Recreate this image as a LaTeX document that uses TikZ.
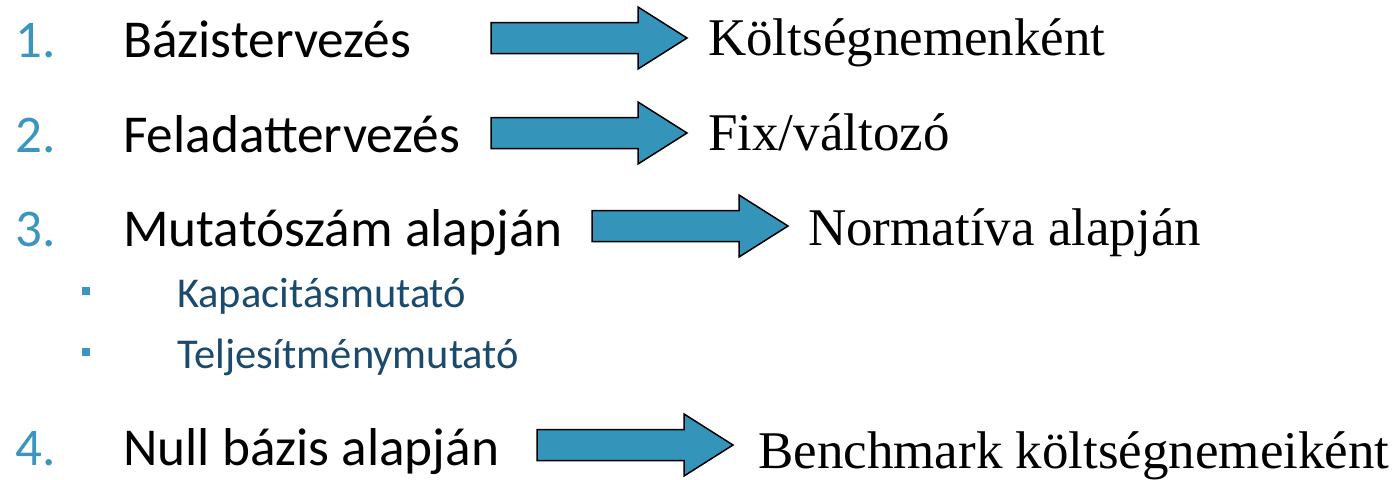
\documentclass[tikz,border=0pt]{standalone}
\usepackage{fontspec}
\setmainfont{Carlito}
\newfontfamily\serifface{Liberation Serif}
\definecolor{numteal}{RGB}{58,150,190}
\definecolor{arrowfill}{RGB}{53,148,186}
\definecolor{subblue}{RGB}{26,74,110}
\tikzset{
  numlabel/.style={anchor=base west, inner sep=0pt, text=numteal, font=\fontsize{53}{60}\selectfont},
  mainlabel/.style={anchor=base west, inner sep=0pt, text=black, font=\fontsize{53.3}{60}\selectfont},
  sublabel/.style={anchor=base west, inner sep=0pt, text=subblue, font=\fontsize{42.5}{50}\selectfont},
  resultlabel/.style={anchor=base west, inner sep=0pt, text=black, font=\serifface\fontsize{53}{60}\selectfont},
  blockarrow/.style={fill=arrowfill, draw=black, line width=1.5pt, line join=miter},
  bulletsq/.style={fill=numteal, draw=none, minimum size=8pt, inner sep=0pt},
}
% block arrow: shaft 147 long, 31 thick; head 49 long, 62 tall
\newcommand\blockarrowat[1]{%
  \draw[blockarrow] (#1) ++(0,-15.5) -- ++(147,0) -- ++(0,-15.5) -- ++(49,31)
    -- ++(-49,31) -- ++(0,-15.5) -- ++(-147,0) -- cycle;}
\begin{document}
\begin{tikzpicture}[x=1pt,y=-1pt]
\useasboundingbox (0,0) rectangle (1396,479);

% numbered items
\node[numlabel] (n1) at (15,57) {1.};
\node[numlabel] (n2) at (15,152) {2.};
\node[numlabel] (n3) at (15,246) {3.};
\node[numlabel] (n4) at (15,465) {4.};

\node[mainlabel] (m1) at (123,57) {Bázistervezés};
\node[mainlabel] (m2) at (123,152) {Feladattervezés};
\node[mainlabel] (m3) at (123,246) {Mutatószám alapján};
\node[mainlabel] (m4) at (123,465) {Null bázis alapján};

% sub-items of item 3
\node[bulletsq] (b1) at (86,291) {};
\node[bulletsq] (b2) at (86,352) {};
\node[sublabel] (s1) at (177,307) {Kapacitásmutató};
\node[sublabel] (s2) at (177,368) {Teljesítménymutató};

% arrows
\coordinate (a1) at (491,38);
\coordinate (a2) at (491,133);
\coordinate (a3) at (592,226);
\coordinate (a4) at (537,445);
\blockarrowat{a1}
\blockarrowat{a2}
\blockarrowat{a3}
\blockarrowat{a4}

% results
\node[resultlabel] (r1) at (708,55) {Költségnemenként};
\node[resultlabel] (r2) at (708,150) {Fix/változó};
\node[resultlabel] (r3) at (808,245) {Normatíva alapján};
\node[resultlabel] (r4) at (758,468) {Benchmark költségnemeiként};
\end{tikzpicture}
\end{document}
